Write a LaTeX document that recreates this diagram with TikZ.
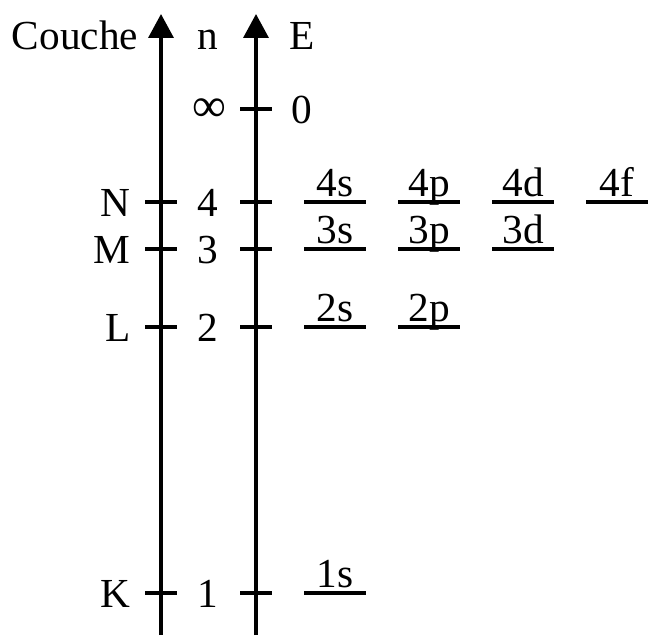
\documentclass[tikz,border=0pt]{standalone}
\usepackage{fontspec}
\setmainfont{Liberation Serif}
\usetikzlibrary{arrows.meta}

\tikzset{
  axe/.style={line width=2pt, -{Triangle[length=0.48cm, width=0.5cm]}},
  trait/.style={line width=2pt},
  niveau/.style={line width=2pt},
  lbl/.style={anchor=base, inner sep=0pt},
}

\begin{document}
\begin{tikzpicture}[x=0.02cm, y=-0.02cm, font=\fontsize{23.5}{28}\selectfont]
    \useasboundingbox (0,0) rectangle (648,635);

    % axes (couche/n et E)
    \coordinate (nbas) at (161,635);
    \coordinate (nhaut) at (161,14);
    \coordinate (ebas) at (256,635);
    \coordinate (ehaut) at (256,14);
    \draw[axe] (nbas) -- (nhaut);
    \draw[axe] (ebas) -- (ehaut);

    % titres
    \node[lbl] (couche) at (75,50) {Couche};
    \node[lbl] (n) at (208,50) {n};
    \node[lbl] (E) at (302,50) {E};

    % n infini, E = 0
    \draw[trait] (240,109) -- (272,109);
    \node[inner sep=0pt, scale=1.15] (ninf) at (209,110) {∞};
    \node[lbl] (ezero) at (302,123) {0};

    % graduations : couche, n
    \foreach \y/\c/\k in {202/N/4, 249/M/3, 327/L/2, 593/K/1} {
        \draw[trait] (145,\y) -- (177,\y);
        \draw[trait] (240,\y) -- (272,\y);
        \node[lbl, anchor=base east] (c\k) at (131,\y+14) {\c};
        \node[lbl] (n\k) at (208,\y+14) {\k};
    }

    % niveaux d'energie
    \foreach \y/\k/\liste in {593/1/{s}, 327/2/{s,p}, 249/3/{s,p,d}, 202/4/{s,p,d,f}} {
        \foreach \s [count=\i from 0] in \liste {
            \draw[niveau] (304+94*\i,\y) -- ++(62,0);
            \node[lbl] (o\k\s) at (335+94*\i,\y-6) {\k\s};
        }
    }
\end{tikzpicture}
\end{document}
